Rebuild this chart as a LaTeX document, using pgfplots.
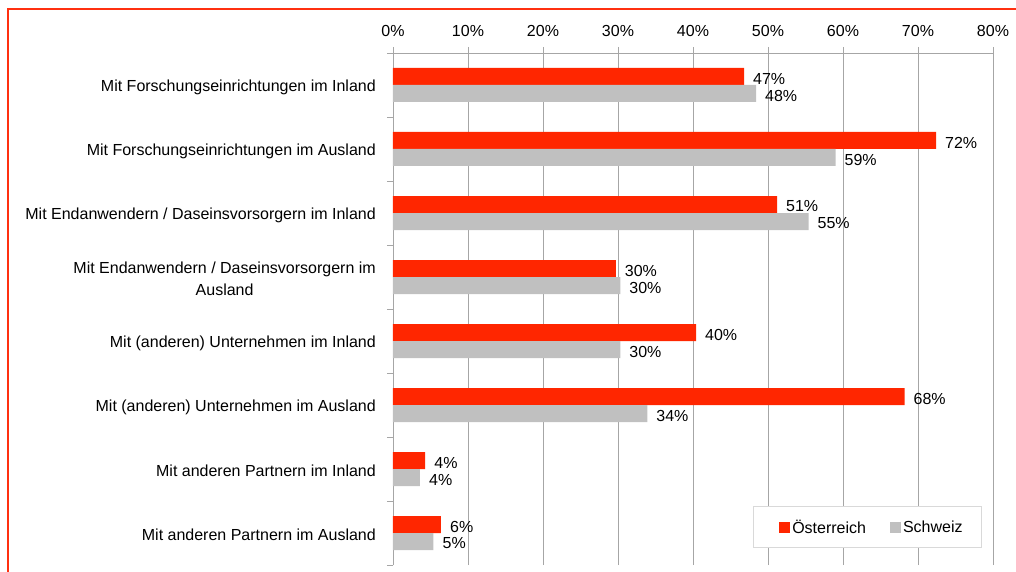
\documentclass[border=0pt]{standalone}
\usepackage{pgfplots}
\pgfplotsset{compat=1.18}
\usepackage{pgfplotstable}
\usepackage{fontspec}
\setmainfont{Liberation Sans}

\definecolor{atred}{HTML}{FF2600}
\definecolor{chgray}{HTML}{C0C0C0}
\definecolor{gridgray}{HTML}{A6A6A6}
\definecolor{framered}{HTML}{FF3010}

% y = 7 is the top category
\pgfplotstableread{
y x
7 46.8
6 72.4
5 51.2
4 29.7
3 40.4
2 68.2
1 4.3
0 6.4
}\oesterreich

\pgfplotstableread{
y x
7 48.4
6 59.0
5 55.4
4 30.3
3 30.3
2 33.9
1 3.6
0 5.4
}\schweiz

\begin{document}
\begin{tikzpicture}
  \begin{axis}[
    at={(0pt,0pt)}, anchor=south west,
    scale only axis,
    width=600pt, height=512pt,
    font=\fontsize{16}{22}\selectfont,
    /pgf/number format/assume math mode=true,
    xbar, bar width=17pt,
    xmin=0, xmax=80,
    ymin=-0.5, ymax=7.5,
    enlargelimits=false,
    axis x line*=top,
    axis y line*=left,
    axis line style={gridgray, line width=0.8pt, -},
    xtick={0,10,...,80},
    xticklabel={\pgfmathprintnumber{\tick}\%},
    xticklabel style={inner sep=0pt, yshift=10pt},
    xmajorgrids,
    major grid style={gridgray, line width=0.8pt},
    tick align=outside,
    major tick length=6pt,
    xtick style={gridgray, line width=0.8pt},
    ytick={0,...,7},
    yticklabels={
      Mit anderen Partnern im Ausland,
      Mit anderen Partnern im Inland,
      Mit (anderen) Unternehmen im Ausland,
      Mit (anderen) Unternehmen im Inland,
      {Mit Endanwendern / Daseinsvorsorgern im\\Ausland},
      Mit Endanwendern / Daseinsvorsorgern im Inland,
      Mit Forschungseinrichtungen im Ausland,
      Mit Forschungseinrichtungen im Inland},
    yticklabel style={align=center, anchor=east, inner sep=0pt, xshift=-11pt, yshift=-2pt},
    ytick style={draw=none},
    extra y ticks={-0.5,0.5,...,7.5},
    extra y tick labels={},
    extra y tick style={ytick style={draw=gridgray, line width=0.8pt}},
    point meta=x,
    nodes near coords={\pgfmathprintnumber[fixed,precision=0]{\pgfplotspointmeta}\%},
    nodes near coords style={anchor=west, inner sep=0pt, xshift=9pt, yshift=-2pt, black},
    legend style={
      at={(0.9817,0.0332)}, anchor=south east,
      draw=black!15, line width=0.8pt,
      inner xsep=17pt, inner ysep=11pt,
      legend columns=2,
      /tikz/every even column/.append style={column sep=22pt},
      font=\fontsize{16}{19}\selectfont,
    },
    legend cell align=left,
    legend image code/.code={\fill[#1] (0pt,-5.5pt) rectangle (11pt,5.5pt);},
  ]
    \addplot[fill=atred, draw=none, bar shift=8.5pt,
      legend image code/.code={\path (-9pt,0pt); \fill[##1] (0pt,-5.5pt) rectangle (11pt,5.5pt);}]
      table[x=x, y=y] {\oesterreich};
    \addplot[fill=chgray, draw=none, bar shift=-8.5pt] table[x=x, y=y] {\schweiz};
    \legend{Österreich, Schweiz}
  \end{axis}
  % outer frame of the figure (cut at the right and bottom)
  \draw[framered, line width=1.5pt] (-385pt,-30pt) -- (-385pt,556pt) -- (640pt,556pt);
  \pgfresetboundingbox
  \path[use as bounding box] (-393pt,-6pt) rectangle (623pt,565pt);
\end{tikzpicture}
\end{document}
